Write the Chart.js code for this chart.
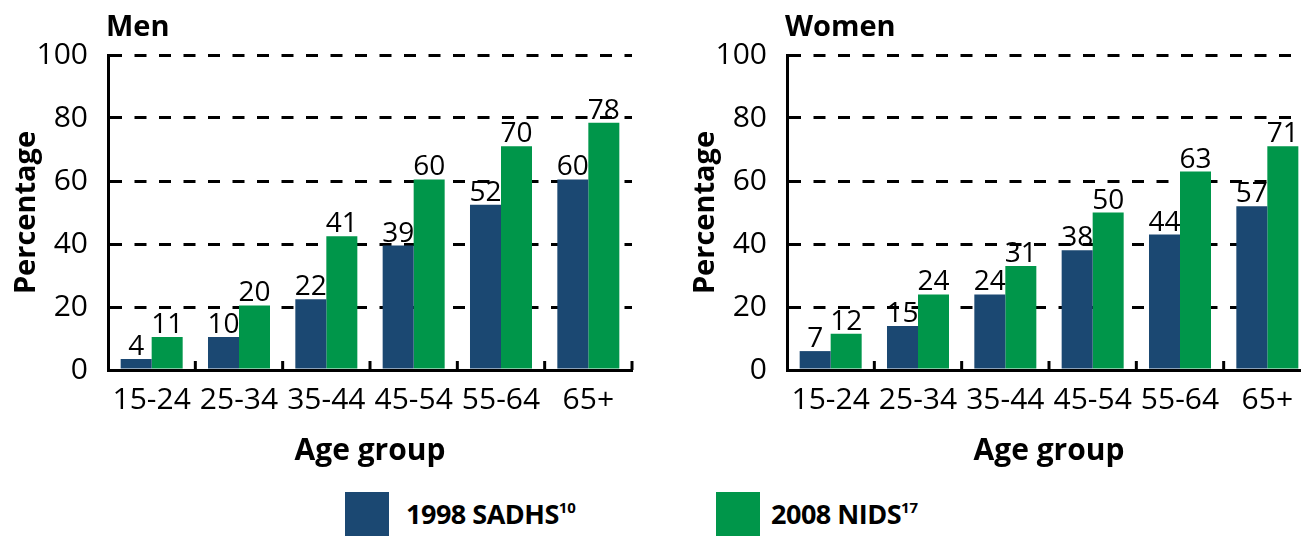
<!DOCTYPE html>
<html>
<head>
<meta charset="utf-8">
<title>Percentage by age group, men and women</title>
<script src="https://cdn.jsdelivr.net/npm/chart.js@4.4.0/dist/chart.umd.min.js"></script>
<style>
    html, body { margin: 0; padding: 0; background: #fff; }
    body { width: 1301px; height: 536px; position: relative; overflow: hidden; font-family: 'Open Sans', sans-serif; }
    canvas { position: absolute; top: 0; }
    #menChart { left: 0; }
    #womenChart { left: 679px; }
    .swatch { position: absolute; top: 492px; width: 44px; height: 50px; }
    .key { position: absolute; top: 496px; font-weight: 700; font-size: 27px; line-height: 36px; color: #000; white-space: nowrap; letter-spacing: -0.5px; }
    .key sup { font-size: 15px; vertical-align: 11px; line-height: 0; letter-spacing: 0; }
</style>
</head>
<body>
<canvas id="menChart" width="650" height="470"></canvas>
<canvas id="womenChart" width="650" height="470"></canvas>

<div class="swatch" style="left:345px;background:#1b4872"></div>
<div class="key" style="left:406px">1998 SADHS<sup>10</sup></div>
<div class="swatch" style="left:716px;background:#00964a"></div>
<div class="key" style="left:771px">2008 NIDS<sup>17</sup></div>

<script>
const ageGroups = ['15-24', '25-34', '35-44', '45-54', '55-64', '65+'];
const yTicks = [0, 20, 40, 60, 80, 100];

// bar heights as drawn in the figure
const menSadhs = [3.5, 10.5, 22.5, 39.5, 52.5, 60.5];
const menNids = [10.5, 20.5, 42.5, 60.5, 71, 78.5];
const womenSadhs = [6, 14, 24, 38, 43, 52];
const womenNids = [11.5, 24, 33, 50, 63, 71];

// values printed above the bars
const menSadhsLabels = [4, 10, 22, 39, 52, 60];
const menNidsLabels = [11, 20, 41, 60, 70, 78];
const womenSadhsLabels = [7, 15, 24, 38, 44, 57];
const womenNidsLabels = [12, 24, 31, 50, 63, 71];

const BLUE = '#1b4872';
const GREEN = '#00964a';
const FONT = "'Open Sans', sans-serif";

Chart.defaults.font.family = FONT;
Chart.defaults.color = '#000';

// panel heading ("Men" / "Women") at the left of the plot area
const panelTitle = {
    id: 'panelTitle',
    afterDraw(chart, args, opts) {
        const ctx = chart.ctx;
        ctx.save();
        ctx.font = `700 29px ${FONT}`;
        ctx.fillStyle = '#000';
        ctx.textBaseline = 'alphabetic';
        ctx.fillText(opts.text, chart.chartArea.left - 2, 36);
        ctx.restore();
    }
};

// printed numbers above each bar
const valueLabels = {
    id: 'valueLabels',
    afterDatasetsDraw(chart, args, opts) {
        const ctx = chart.ctx;
        ctx.save();
        ctx.font = `400 28px ${FONT}`;
        ctx.fillStyle = '#000';
        ctx.textAlign = 'center';
        ctx.textBaseline = 'alphabetic';
        chart.data.datasets.forEach((ds, d) => {
            chart.getDatasetMeta(d).data.forEach((bar, i) => {
                ctx.fillText(String(opts.labels[d][i]), bar.x, bar.y - 4);
            });
        });
        ctx.restore();
    }
};

// short upward tick marks between the age groups
const categoryTicks = {
    id: 'categoryTicks',
    afterDraw(chart) {
        const x = chart.scales.x;
        const step = x.getPixelForValue(1) - x.getPixelForValue(0);
        const base = chart.chartArea.bottom;
        const ctx = chart.ctx;
        ctx.save();
        ctx.strokeStyle = '#000';
        ctx.lineWidth = 3;
        for (let i = 1; i <= ageGroups.length; i++) {
            const px = x.getPixelForValue(0) - step / 2 + i * step;
            ctx.beginPath();
            ctx.moveTo(px, base);
            ctx.lineTo(px, base - 9);
            ctx.stroke();
        }
        ctx.restore();
    }
};

function makeChart(id, title, sadhs, nids, sadhsLabels, nidsLabels) {
    new Chart(document.getElementById(id), {
        type: 'bar',
        data: {
            labels: ageGroups,
            datasets: [
                { label: '1998 SADHS', data: sadhs, backgroundColor: BLUE, borderWidth: 0 },
                { label: '2008 NIDS', data: nids, backgroundColor: GREEN, borderWidth: 0 }
            ]
        },
        options: {
            responsive: false,
            animation: false,
            datasets: { bar: { categoryPercentage: 0.71, barPercentage: 1.0 } },
            layout: { padding: { top: 55, right: 18, bottom: 0, left: 0 } },
            scales: {
                x: {
                    z: 1,
                    grid: { display: false },
                    border: { display: true, color: '#000', width: 3 },
                    ticks: {
                        font: { size: 30 },
                        color: '#000',
                        padding: 4,
                        autoSkip: false,
                        maxRotation: 0
                    },
                    title: {
                        display: true,
                        text: 'Age group',
                        font: { size: 30, weight: '700' },
                        color: '#000',
                        padding: { top: 0, bottom: 1 }
                    },
                    afterFit(scale) { scale.height = 100; }
                },
                y: {
                    min: 0,
                    max: 100,
                    afterBuildTicks(scale) { scale.ticks = yTicks.map(v => ({ value: v })); },
                    grid: { color: '#000', lineWidth: 3, drawTicks: false },
                    border: { display: true, color: '#000', width: 3, dash: [12, 12.5] },
                    ticks: { font: { size: 30 }, color: '#000', padding: 20 },
                    title: {
                        display: true,
                        text: 'Percentage',
                        font: { size: 29, weight: '700' },
                        color: '#000',
                        padding: { top: 9, bottom: 0 }
                    },
                    afterFit(scale) { scale.width = 108; }
                }
            },
            plugins: {
                legend: { display: false },
                tooltip: { enabled: false },
                panelTitle: { text: title },
                valueLabels: { labels: [sadhsLabels, nidsLabels] }
            }
        },
        plugins: [panelTitle, valueLabels, categoryTicks]
    });
}

makeChart('menChart', 'Men', menSadhs, menNids, menSadhsLabels, menNidsLabels);
makeChart('womenChart', 'Women', womenSadhs, womenNids, womenSadhsLabels, womenNidsLabels);
</script>
</body>
</html>
